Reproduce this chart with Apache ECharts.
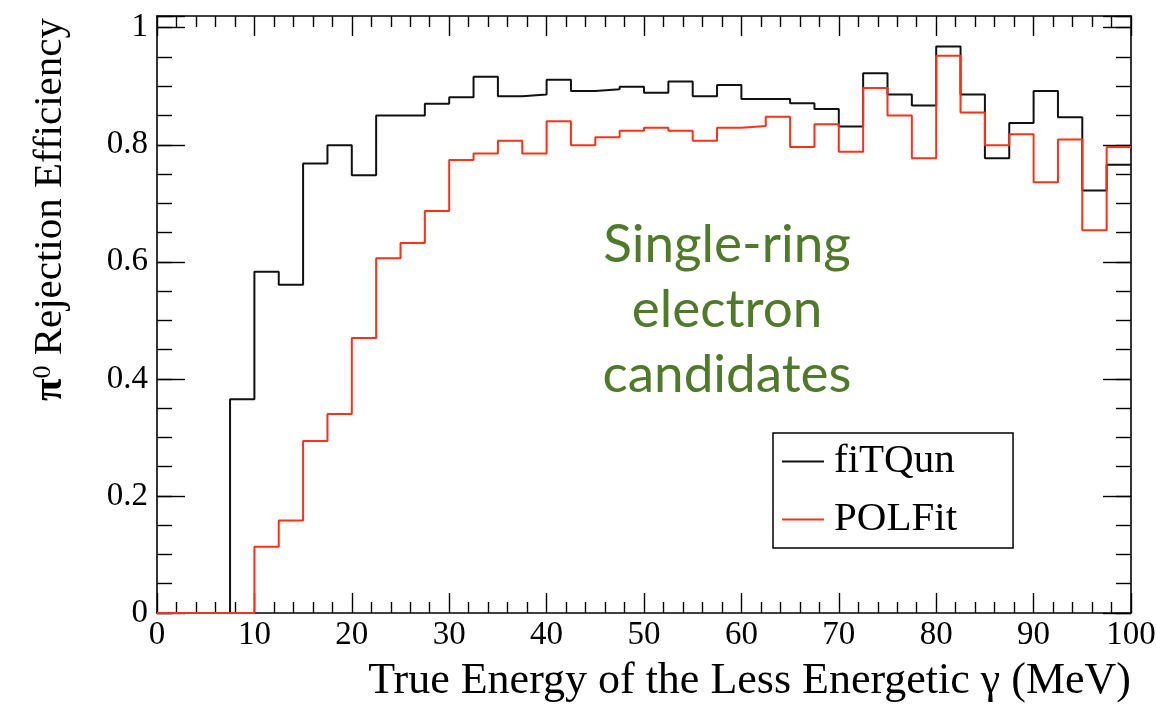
<!DOCTYPE html>
<html>
<head>
<meta charset="utf-8">
<script src="https://cdn.jsdelivr.net/npm/echarts@6/dist/echarts.min.js"></script>
<style>
html,body{margin:0;padding:0;background:#fff;}
#chart{width:1157px;height:705px;}
</style>
</head>
<body>
<div id="chart"></div>
<script>
// Bin edges (MeV) of the histogram: 40 bins of 2.5 MeV
const binEdges = [0, 2.5, 5, 7.5, 10, 12.5, 15, 17.5, 20, 22.5, 25, 27.5, 30, 32.5, 35, 37.5, 40, 42.5, 45, 47.5,
  50, 52.5, 55, 57.5, 60, 62.5, 65, 67.5, 70, 72.5, 75, 77.5, 80, 82.5, 85, 87.5, 90, 92.5, 95, 97.5, 100];

const fiTQun = [0, 0, 0, 0.365, 0.583, 0.561, 0.768, 0.799, 0.748, 0.850,
  0.850, 0.870, 0.881, 0.916, 0.883, 0.886, 0.911, 0.892, 0.895, 0.899,
  0.889, 0.908, 0.883, 0.902, 0.878, 0.878, 0.871, 0.861, 0.831, 0.922,
  0.886, 0.867, 0.968, 0.886, 0.777, 0.837, 0.892, 0.847, 0.722, 0.766];

const POLFit = [0, 0, 0, 0, 0.113, 0.158, 0.294, 0.340, 0.470, 0.606,
  0.632, 0.687, 0.774, 0.785, 0.807, 0.785, 0.840, 0.799, 0.813, 0.824,
  0.829, 0.824, 0.807, 0.829, 0.832, 0.848, 0.796, 0.835, 0.788, 0.897,
  0.850, 0.777, 0.952, 0.855, 0.799, 0.818, 0.736, 0.809, 0.654, 0.796];

const seriesNames = ['fiTQun', 'POLFit'];
const xTitle = 'True Energy of the Less Energetic γ (MeV)';
const yTitle = '{pi|π}{sup|0} Rejection Efficiency';
const annotation = 'Single-ring\nelectron\ncandidates';

function histPoints(vals) {
  return binEdges.map((x, i) => [x, vals[Math.min(i, vals.length - 1)]]);
}

const SERIF = '"Liberation Serif", "Times New Roman", serif';
const axisLineStyle = { color: '#000', width: 1.6 };

const chart = echarts.init(document.getElementById('chart'), null, { renderer: 'canvas' });

function baseX(pos, showLabel) {
  return {
    type: 'value', position: pos, min: 0, max: 100, interval: 10,
    axisLine: { show: true, onZero: false, lineStyle: axisLineStyle },
    axisTick: { show: true, inside: true, length: 20, lineStyle: { color: '#000', width: 1.4 } },
    minorTick: { show: true, splitNumber: 5, length: 11, lineStyle: { color: '#000', width: 1.4 } },
    splitLine: { show: false }, minorSplitLine: { show: false },
    axisLabel: { show: showLabel, fontFamily: SERIF, fontSize: 33, color: '#000', margin: 6 }
  };
}
function baseY(pos, interval, tickLen, showLine, showLabel) {
  return {
    type: 'value', position: pos, min: 0, max: 1.02, interval: interval,
    axisLine: { show: showLine, onZero: false, lineStyle: axisLineStyle },
    axisTick: { show: true, inside: true, length: tickLen, lineStyle: { color: '#000', width: 1.4 } },
    splitLine: { show: false },
    axisLabel: {
      show: showLabel, fontFamily: SERIF, fontSize: 33, color: '#000', margin: 9,
      formatter: function (v) {
        const k = Math.round(v / 0.2);
        if (Math.abs(v - k * 0.2) > 1e-6 || v > 1.0001) return '';
        return String(+(k * 0.2).toFixed(1));
      }
    }
  };
}

const xBottom = baseX('bottom', true);
xBottom.name = xTitle;
xBottom.nameLocation = 'end';
xBottom.nameGap = 0;
xBottom.nameMoveOverlap = false;
xBottom.nameTextStyle = { fontFamily: SERIF, fontSize: 44, color: '#000', align: 'right', verticalAlign: 'top', padding: [46, 0, 0, 0] };

const yLeft = baseY('left', 0.2, 28, true, true);
yLeft.name = yTitle;
yLeft.nameLocation = 'end';
yLeft.nameRotate = 90;
yLeft.nameGap = -2;
yLeft.nameMoveOverlap = false;
yLeft.nameTextStyle = {
  fontFamily: SERIF, fontSize: 41, color: '#000', align: 'right', verticalAlign: 'bottom',
  padding: [0, 0, 86, 0],
  rich: {
    pi: { fontFamily: SERIF, fontSize: 41, color: '#000', fontWeight: 'bold' },
    sup: { fontFamily: SERIF, fontSize: 26, color: '#000', verticalAlign: 'top' }
  }
};

const option = {
  animation: false,
  backgroundColor: '#fff',
  grid: { left: 157, right: 26, top: 16, bottom: 92, containLabel: false, outerBoundsMode: 'none' },
  xAxis: [xBottom, baseX('top', false)],
  yAxis: [
    yLeft,
    baseY('left', 0.05, 15, false, false),
    baseY('right', 0.2, 28, true, false),
    baseY('right', 0.05, 15, false, false)
  ],
  legend: {
    show: true, data: seriesNames, orient: 'vertical', left: 773, top: 433,
    icon: 'rect', itemWidth: 42, itemHeight: 2, itemGap: 17,
    borderColor: '#000', borderWidth: 1.5, backgroundColor: '#fff',
    padding: [8, 56, 8, 9],
    textStyle: { fontFamily: SERIF, fontSize: 41, color: '#000', lineHeight: 40, padding: [0, 0, 0, 5] }
  },
  series: [
    {
      name: seriesNames[0], type: 'line', step: 'end', symbol: 'none', xAxisIndex: 0, yAxisIndex: 0,
      color: '#111', lineStyle: { color: '#111', width: 2 }, data: histPoints(fiTQun)
    },
    {
      name: seriesNames[1], type: 'line', step: 'end', symbol: 'none', xAxisIndex: 0, yAxisIndex: 0,
      color: '#ff3018', lineStyle: { color: '#ff3018', width: 2 }, data: histPoints(POLFit)
    }
  ],
  graphic: [
    {
      type: 'text', x: 727, y: 310, z: 100,
      style: {
        text: annotation, fill: '#4e7a29', fontFamily: 'Lato, "Open Sans", sans-serif', fontSize: 53,
        lineHeight: 65, align: 'center', verticalAlign: 'middle'
      }
    }
  ]
};
chart.setOption(option);
</script>
</body>
</html>
